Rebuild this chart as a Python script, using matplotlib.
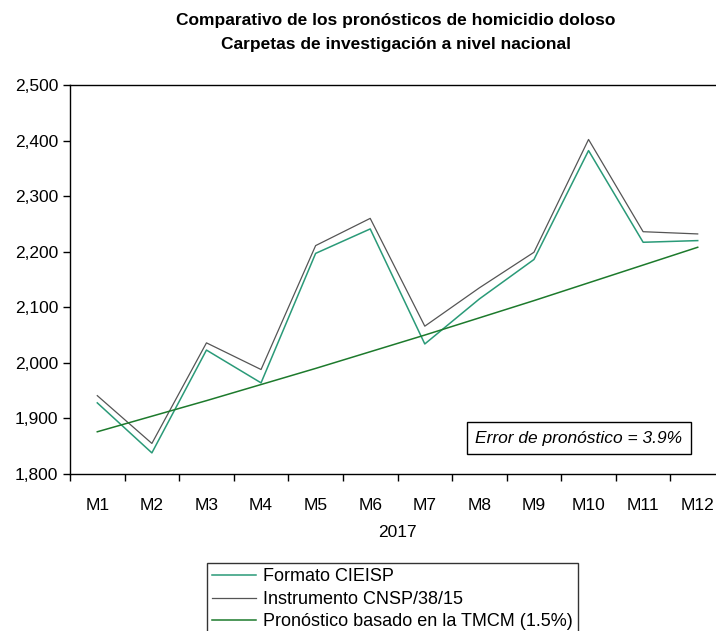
import matplotlib
matplotlib.use("Agg")
import matplotlib.pyplot as plt
from matplotlib.ticker import FuncFormatter, FixedLocator

plt.rcParams['font.family'] = ['Liberation Sans', 'DejaVu Sans']

months = ["M1", "M2", "M3", "M4", "M5", "M6", "M7", "M8", "M9", "M10", "M11", "M12"]
cieisp = [1928, 1838, 2023, 1964, 2197, 2241, 2034, 2115, 2186, 2382, 2217, 2220]
cnsp = [1941, 1855, 2036, 1988, 2211, 2260, 2066, 2135, 2199, 2402, 2236, 2232]
tmcm = [1876, 1904, 1932, 1961, 1990, 2020, 2050, 2081, 2112, 2144, 2176, 2208]

fig = plt.figure(figsize=(7.16, 6.31), dpi=100)
ax = fig.add_axes([70/716, 1-474/631, 655/716, 389/631])

x = list(range(len(months)))
l1, = ax.plot(x, cieisp, color='#2a9a78', lw=1.1, label='Formato CIEISP')
l2, = ax.plot(x, cnsp, color='#555555', lw=0.9, label='Instrumento CNSP/38/15')
l3, = ax.plot(x, tmcm, color='#1d7a2c', lw=1.1, label='Pronóstico basado en la TMCM (1.5%)')

ax.set_xlim(-0.5, 11.5)
ax.set_ylim(1800, 2500)
ax.set_yticks([1800, 1900, 2000, 2100, 2200, 2300, 2400, 2500])
ax.yaxis.set_major_formatter(FuncFormatter(lambda v, p: f"{int(v):,}"))
ax.xaxis.set_major_locator(FixedLocator([i - 0.5 for i in range(13)]))
ax.xaxis.set_minor_locator(FixedLocator(x))
ax.set_xticklabels([], minor=False)
ax.set_xticklabels(months, minor=True)
ax.tick_params(axis='x', which='major', length=5, direction='out', width=1)
ax.tick_params(axis='x', which='minor', length=0, labelsize=12.5, pad=17)
ax.tick_params(axis='y', length=5, direction='out', labelsize=12.5, width=1)
for s in ax.spines.values():
    s.set_linewidth(1.0)
ax.set_xlabel("2017", fontsize=12.5, labelpad=9)

fig.text(396/716, 1-20/631, "Comparativo de los pronósticos de homicidio doloso",
         ha='center', va='center', fontsize=12.5, fontweight='bold')
fig.text(396/716, 1-45/631, "Carpetas de investigación a nivel nacional",
         ha='center', va='center', fontsize=12.5, fontweight='bold')

ax.text(0.777, 0.0925, "Error de pronóstico = 3.9%", transform=ax.transAxes,
        ha='center', va='center', fontsize=12.5, style='italic',
        bbox=dict(boxstyle='square,pad=0.5', facecolor='white', edgecolor='black', lw=1))

leg = fig.legend(handles=[l1, l2, l3], loc='upper left',
                 bbox_to_anchor=(207/716, 1-563/631), fontsize=13, frameon=True,
                 fancybox=False, edgecolor='black', handlelength=2.4,
                 labelspacing=0.3, borderpad=0.3, handletextpad=0.4,
                 borderaxespad=0)
leg.get_frame().set_linewidth(1.0)

fig.savefig("out.png", dpi=100)
